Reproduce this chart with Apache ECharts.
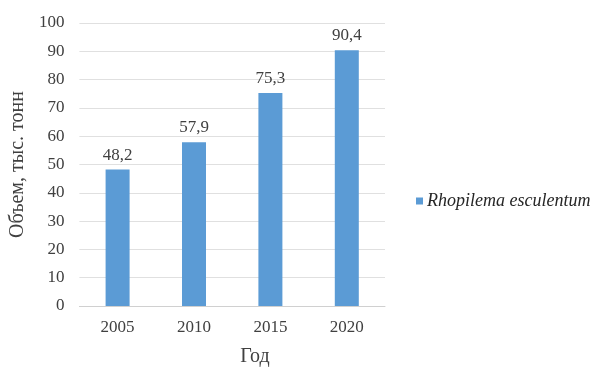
<!DOCTYPE html>
<html>
<head>
<meta charset="utf-8">
<script src="https://cdn.jsdelivr.net/npm/echarts@6/dist/echarts.min.js"></script>
<style>
  html, body { margin: 0; padding: 0; background: #fff; }
  #chart { width: 609px; height: 368px; }
</style>
</head>
<body>
<div id="chart"></div>
<script>
var years = ['2005', '2010', '2015', '2020'];
var volumes = [48.2, 57.9, 75.3, 90.4];
var seriesName = 'Rhopilema esculentum';

var chart = echarts.init(document.getElementById('chart'));
var font = 'Liberation Serif';

chart.setOption({
    animation: false,
    textStyle: { fontFamily: font },
    grid: { left: 77, right: 224, top: 23, bottom: 62 },
    title: {
        text: 'Год',
        left: 250,
        top: 342,
        textAlign: 'center',
        textStyle: { fontFamily: font, fontSize: 20, fontWeight: 'normal', color: '#404040' }
    },
    legend: {
        data: [seriesName],
        left: 411,
        top: 187,
        itemWidth: 7,
        itemHeight: 7,
        itemGap: 0,
        icon: 'rect',
        textStyle: { fontFamily: font, fontSize: 18, fontStyle: 'italic', color: '#262626', padding: [0, 0, 0, -1] }
    },
    xAxis: {
        type: 'category',
        data: years,
        axisTick: { show: false },
        axisLine: { lineStyle: { color: '#d0d0d0' } },
        axisLabel: { fontFamily: font, fontSize: 17, color: '#404040', margin: 13 }
    },
    yAxis: {
        type: 'value',
        min: 0,
        max: 100,
        interval: 10,
        name: 'Объем, тыс. тонн',
        nameLocation: 'middle',
        nameGap: 47,
        nameTextStyle: { fontFamily: font, fontSize: 20, color: '#404040' },
        axisLabel: { fontFamily: font, fontSize: 17, color: '#404040', margin: 15 },
        splitLine: { lineStyle: { color: '#e0e0e0' } }
    },
    series: [{
        name: seriesName,
        type: 'bar',
        data: volumes,
        barWidth: 24,
        itemStyle: { color: '#5b9bd5' },
        label: {
            show: true,
            position: 'top',
            distance: 6,
            fontFamily: font,
            fontSize: 17,
            color: '#404040',
            formatter: function (p) { return String(p.value).replace('.', ','); }
        }
    }]
});
</script>
</body>
</html>
